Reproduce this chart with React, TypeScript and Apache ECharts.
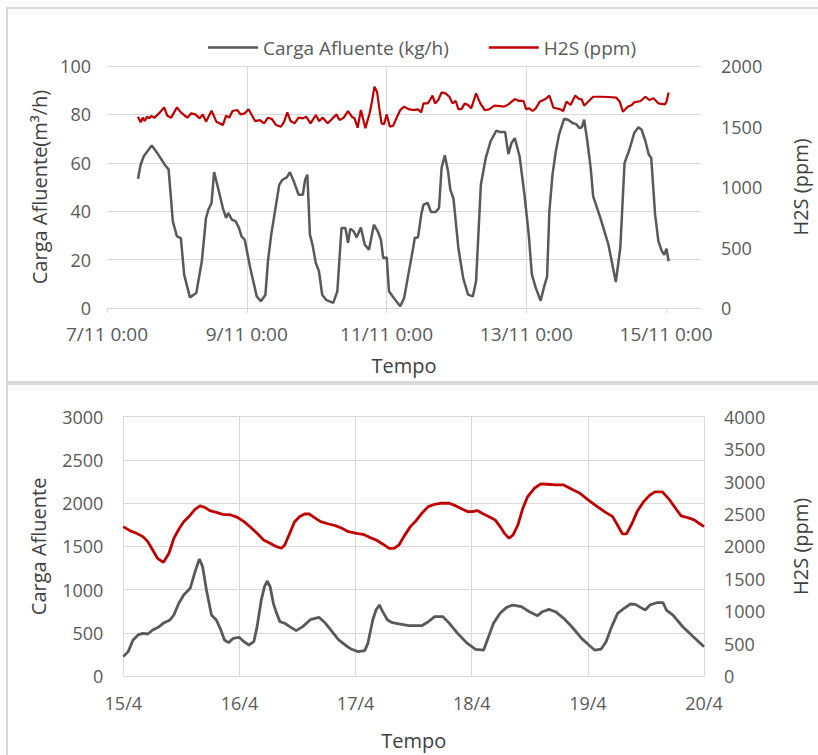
import React, { useEffect, useRef } from "react";
import * as echarts from "echarts";

const FONT = "'Open Sans', 'Noto Sans', sans-serif";

// ---------- Top chart (7/11 - 15/11) ----------
const topXTicks = [0, 2, 4, 6, 8];
const topXLabels = ["7/11 0:00", "9/11 0:00", "11/11 0:00", "13/11 0:00", "15/11 0:00"];
const topLegend = ["Carga Afluente (kg/h)", "H2S (ppm)"];

const topCargaDays = [
  0.443, 0.481, 0.526, 0.641, 0.734, 0.827, 0.882, 0.942, 1.001, 1.057,
  1.104, 1.187, 1.278, 1.357, 1.417, 1.450, 1.496, 1.533, 1.589, 1.658,
  1.704, 1.735, 1.787, 1.842, 1.888, 1.925, 1.971, 2.050, 2.143, 2.202,
  2.267, 2.303, 2.350, 2.396, 2.465, 2.511, 2.572, 2.618, 2.673, 2.742,
  2.802, 2.835, 2.867, 2.904, 2.940, 2.988, 3.033, 3.079, 3.134, 3.237,
  3.296, 3.356, 3.411, 3.449, 3.481, 3.528, 3.573, 3.633, 3.688, 3.749,
  3.819, 3.874, 3.920, 3.952, 4.003, 4.035, 4.104, 4.197, 4.252, 4.312,
  4.381, 4.404, 4.450, 4.497, 4.529, 4.589, 4.636, 4.705, 4.751, 4.788,
  4.834, 4.880, 4.913, 4.958, 5.028, 5.097, 5.166, 5.235, 5.281, 5.350,
  5.420, 5.489, 5.572, 5.627, 5.697, 5.744, 5.789, 5.835, 5.904, 5.974,
  6.035, 6.080, 6.136, 6.205, 6.251, 6.298, 6.330, 6.375, 6.422, 6.468,
  6.541, 6.597, 6.666, 6.713, 6.759, 6.796, 6.828, 6.874, 6.921, 6.957,
  7.060, 7.175, 7.281, 7.345, 7.406, 7.475, 7.544, 7.604, 7.650, 7.705,
  7.752, 7.788, 7.843, 7.891, 7.936, 7.974, 8.006, 8.037,
];
const topCargaValues = [
  53.4, 59.2, 62.7, 67.2, 63.4, 59.2, 57.2, 35.8, 29.6, 28.9,
  13.8, 4.4, 6.2, 19.3, 37.2, 40.6, 43.4, 56.2, 49.6, 41.3,
  37.2, 39.3, 36.5, 35.8, 33.1, 29.6, 28.2, 16.5, 4.8, 2.8,
  5.5, 19.3, 30.3, 38.6, 51, 53, 54, 56.1, 52.3, 46.8,
  46.8, 53, 55.1, 30.3, 26.2, 18.6, 15.2, 5.5, 3.4, 2.1,
  6.9, 33.1, 33.1, 26.9, 32.8, 31.7, 29.2, 33.3, 26.2, 24.1,
  34.4, 31.7, 28.2, 20.7, 20.9, 6.9, 4.1, 0.7, 4.1, 13.8,
  24.8, 28.9, 29.2, 38.6, 42.7, 43.4, 39.7, 39.7, 41.3, 57.9,
  63.1, 56.5, 48.9, 45.2, 24.8, 12.4, 5.5, 4.8, 11, 51,
  62, 68.9, 73.3, 72.7, 72.7, 63.6, 68.2, 70.2, 62.7, 46.8,
  30.3, 13.8, 8.3, 3, 8.3, 13.1, 39.9, 55.1, 64.7, 71.6,
  78.2, 77.8, 76.4, 76, 74.4, 74.7, 77.8, 68.9, 57.9, 46.1,
  37.2, 26.2, 10.7, 24.8, 59.9, 65.4, 72.3, 74.7, 73.7, 68.9,
  63.4, 62, 38.6, 27.5, 23.7, 22, 24.5, 19.3,
];

const topH2SDays = [
  0.443, 0.481, 0.512, 0.540, 0.572, 0.605, 0.633, 0.679, 0.758, 0.817,
  0.863, 0.918, 1.001, 1.057, 1.150, 1.205, 1.265, 1.325, 1.371, 1.417,
  1.496, 1.565, 1.658, 1.704, 1.749, 1.796, 1.866, 1.911, 1.971, 2.026,
  2.119, 2.188, 2.248,
  2.303, 2.359, 2.420, 2.489, 2.535, 2.580, 2.627, 2.683, 2.742, 2.802,
  2.849, 2.913, 2.988, 3.033, 3.089, 3.158, 3.227, 3.283, 3.328, 3.389,
  3.449, 3.504, 3.542, 3.587, 3.633, 3.698, 3.758, 3.791, 3.827, 3.864,
  3.896, 3.929, 3.965, 4.003, 4.048, 4.096, 4.151,
  4.197, 4.252, 4.312, 4.381, 4.450, 4.497, 4.529, 4.589, 4.622, 4.658,
  4.695, 4.741, 4.788, 4.843, 4.899, 4.945, 4.990, 5.028, 5.073, 5.120,
  5.166, 5.212, 5.281, 5.342, 5.406, 5.467, 5.544, 5.627, 5.683, 5.744,
  5.835, 5.896, 5.960, 5.997, 6.043, 6.090,
  6.136, 6.191, 6.274, 6.330, 6.389, 6.482, 6.528, 6.575, 6.634, 6.699,
  6.759, 6.791, 6.828, 6.884, 6.957, 7.060, 7.175, 7.290, 7.337, 7.382,
  7.452, 7.511, 7.544, 7.636, 7.705, 7.760, 7.821, 7.891, 7.982, 8.006,
  8.037,
];
const topH2SValues = [
  1581, 1534, 1573, 1545, 1581, 1567, 1587, 1573, 1617, 1658,
  1589, 1573, 1658, 1617, 1573, 1609, 1600, 1567, 1600, 1540,
  1631, 1540, 1512, 1589, 1573, 1628, 1636, 1600, 1609, 1642,
  1545, 1553, 1526,
  1573, 1562, 1512, 1498, 1540, 1617, 1545, 1526, 1573, 1567,
  1581, 1526, 1595, 1545, 1573, 1526, 1567, 1600, 1553, 1573,
  1628, 1581, 1567, 1490, 1636, 1485, 1609, 1705, 1829, 1788,
  1650, 1526, 1518, 1600, 1498, 1507, 1581,
  1636, 1664, 1644, 1636, 1642, 1617, 1691, 1691, 1719, 1755,
  1691, 1719, 1782, 1774, 1746, 1691, 1711, 1644, 1644, 1691,
  1678, 1650, 1774, 1691, 1636, 1642, 1672, 1669, 1664, 1683,
  1727, 1711, 1711, 1644, 1650, 1628,
  1650, 1705, 1727, 1755, 1655, 1644, 1628, 1705, 1678, 1755,
  1727, 1727, 1672, 1705, 1746, 1746, 1744, 1738, 1705, 1622,
  1664, 1678, 1700, 1711, 1746, 1719, 1733, 1691, 1683, 1705,
  1782,
];

// ---------- Bottom chart (15/4 - 20/4) ----------
const botXTicks = [0, 1, 2, 3, 4, 5];
const botXLabels = ["15/4", "16/4", "17/4", "18/4", "19/4", "20/4"];

const botCargaDays = [
  0.0, 0.042, 0.084, 0.127, 0.169, 0.211, 0.253, 0.309, 0.351, 0.402,
  0.435, 0.478, 0.520, 0.576, 0.618, 0.655, 0.683, 0.716, 0.759, 0.801,
  0.834, 0.871, 0.907, 0.947, 0.997, 1.039, 1.081, 1.124, 1.152, 1.188,
  1.216, 1.239, 1.264, 1.292, 1.320, 1.348, 1.390, 1.433, 1.489, 1.545,
  1.615, 1.685, 1.741, 1.798, 1.854, 1.910, 1.966, 2.022, 2.078, 2.106,
  2.148, 2.176, 2.205, 2.233, 2.275, 2.317, 2.374, 2.458,
  2.570, 2.626, 2.682, 2.752, 2.808, 2.878, 2.963, 3.033, 3.103, 3.145,
  3.187, 3.244, 3.300, 3.356, 3.427, 3.497, 3.567, 3.609, 3.665, 3.721,
  3.792, 3.862, 3.946, 4.016, 4.058, 4.115, 4.157, 4.199, 4.256, 4.312,
  4.367, 4.409, 4.452, 4.494, 4.535, 4.592, 4.648, 4.676, 4.733, 4.817,
  4.901, 5.000,
];
const botCargaValues = [
  224, 282, 417, 475, 494, 486, 532, 571, 617, 648,
  706, 841, 937, 1015, 1207, 1354, 1265, 995, 706, 648,
  552, 417, 386, 436, 448, 397, 359, 397, 571, 880,
  1034, 1099, 1034, 841, 725, 629, 610, 571, 525, 571,
  656, 679, 610, 513, 417, 359, 309, 282, 293, 378,
  648, 764, 822, 745, 648, 617, 602, 583,
  582, 628, 686, 686, 609, 493, 377, 308, 300, 455,
  609, 725, 794, 821, 802, 744, 698, 744, 771, 744,
  667, 570, 435, 350, 300, 312, 397, 551, 725, 782,
  833, 829, 794, 763, 821, 848, 848, 763, 705, 570,
  462, 339,
];

const botH2SDays = [
  0.0, 0.056, 0.113, 0.169, 0.211, 0.253, 0.295, 0.346, 0.393, 0.435,
  0.478, 0.520, 0.570, 0.618, 0.660, 0.702, 0.745, 0.801, 0.857, 0.927,
  0.983, 1.039, 1.096, 1.152, 1.208, 1.264, 1.320, 1.362, 1.390, 1.433,
  1.475, 1.517, 1.559, 1.601, 1.643, 1.699, 1.769, 1.826, 1.882, 1.938,
  2.008, 2.064, 2.121, 2.177, 2.233, 2.289, 2.331, 2.374, 2.415, 2.472,
  2.514, 2.570, 2.626, 2.682, 2.738, 2.808, 2.864, 2.921, 2.963, 3.005,
  3.047, 3.089, 3.145, 3.202, 3.244, 3.286, 3.322, 3.356, 3.398, 3.440,
  3.482, 3.539, 3.595, 3.651, 3.721, 3.792, 3.862, 3.932, 4.002, 4.072,
  4.143, 4.213, 4.255, 4.297, 4.333, 4.381, 4.424, 4.480, 4.535, 4.578,
  4.642, 4.704, 4.761, 4.803, 4.859, 4.915, 4.957, 5.000,
];
const botH2SValues = [
  2304, 2242, 2201, 2150, 2073, 1944, 1815, 1754, 1893, 2124,
  2263, 2381, 2469, 2571, 2623, 2602, 2551, 2525, 2494, 2484,
  2448, 2381, 2294, 2201, 2098, 2047, 1995, 1970, 2021, 2201,
  2381, 2458, 2499, 2499, 2448, 2381, 2345, 2319, 2278, 2227,
  2201, 2186, 2139, 2098, 2037, 1970, 1970, 2021, 2150, 2304,
  2382, 2510, 2613, 2649, 2665, 2665, 2624, 2572, 2536, 2536,
  2552, 2510, 2459, 2408, 2305, 2192, 2125, 2176, 2330, 2588,
  2768, 2896, 2963, 2958, 2948, 2948, 2881, 2819, 2716, 2624,
  2536, 2459, 2330, 2192, 2192, 2356, 2536, 2690, 2793, 2840,
  2840, 2716, 2572, 2469, 2444, 2408, 2356, 2305,
];

const zip = (xs: number[], ys: number[]) => {
  const n = Math.min(xs.length, ys.length);
  const out: number[][] = [];
  for (let i = 0; i < n; i++) out.push([xs[i], ys[i]]);
  return out;
};

const GRAY = "#595959";
const RED = "#C00000";
const GRID = "#d9d9d9";
const TICK = "#595959";
const TITLE = "#404040";

export default function App() {
  const ref = useRef<HTMLDivElement>(null);
  useEffect(() => {
    const chart = echarts.init(ref.current!, null, { renderer: "svg" });
    const plain = (v: number) => String(v);
    const tickLabel = { color: TICK, fontSize: 18, fontFamily: FONT };
    const nameStyle = { color: TITLE, fontSize: 20, fontFamily: FONT };
    chart.setOption({
      animation: false,
      backgroundColor: "#ffffff",
      textStyle: { fontFamily: FONT },
      graphic: [
        { type: "rect", shape: { x: 7, y: 8, width: 830, height: 374 }, style: { fill: "none", stroke: GRID, lineWidth: 2 }, silent: true },
        { type: "rect", shape: { x: 7, y: 384, width: 830, height: 400 }, style: { fill: "none", stroke: GRID, lineWidth: 2 }, silent: true },
      ],
      legend: {
        data: topLegend,
        left: 203,
        top: 33,
        icon: "rect",
        itemWidth: 50,
        itemHeight: 2.5,
        itemGap: 40,
        textStyle: { color: TICK, fontSize: 19, fontFamily: FONT },
      },
      grid: [
        { left: 107, top: 66, width: 615, height: 242 },
        { left: 123.3, top: 416.7, width: 593.4, height: 259.3 },
      ],
      xAxis: [
        {
          gridIndex: 0,
          type: "value",
          min: 0,
          max: 8.5,
          interval: 2,
          axisLine: { show: true, lineStyle: { color: GRID } },
          axisTick: { show: true, customValues: topXTicks, length: 5, lineStyle: { color: GRID } },
          axisLabel: {
            ...tickLabel,
            fontSize: 19,
            margin: 16,
            customValues: topXTicks,
            formatter: (v: number) => topXLabels[topXTicks.indexOf(v)] ?? "",
          },
          splitLine: { show: true, showMinLine: false, showMaxLine: false, lineStyle: { color: GRID } },
          name: "Tempo",
          nameLocation: "middle",
          nameGap: 47,
          nameTextStyle: nameStyle,
        },
        {
          gridIndex: 1,
          type: "value",
          min: 0,
          max: 5,
          interval: 1,
          axisLine: { show: true, lineStyle: { color: GRID } },
          axisTick: { show: false },
          axisLabel: {
            ...tickLabel,
            margin: 18,
            formatter: (v: number) => botXLabels[botXTicks.indexOf(v)] ?? "",
          },
          splitLine: { show: true, lineStyle: { color: GRID } },
          name: "Tempo",
          nameLocation: "middle",
          nameGap: 54,
          nameTextStyle: nameStyle,
        },
      ],
      yAxis: [
        {
          gridIndex: 0,
          type: "value",
          position: "left",
          min: 0,
          max: 100,
          interval: 20,
          axisLine: { show: false },
          axisTick: { show: false },
          axisLabel: { ...tickLabel, margin: 16, formatter: plain },
          splitLine: { show: true, lineStyle: { color: GRID } },
          name: "Carga Afluente(m³/h)",
          nameLocation: "middle",
          nameGap: 45,
          nameTextStyle: nameStyle,
        },
        {
          gridIndex: 0,
          type: "value",
          position: "right",
          min: 0,
          max: 2000,
          interval: 500,
          axisLine: { show: false },
          axisTick: { show: false },
          axisLabel: { ...tickLabel, margin: 20, formatter: plain },
          splitLine: { show: false },
          name: "H2S (ppm)",
          nameLocation: "middle",
          nameGap: 89,
          nameTextStyle: nameStyle,
        },
        {
          gridIndex: 1,
          type: "value",
          position: "left",
          min: 0,
          max: 3000,
          interval: 500,
          axisLine: { show: false },
          axisTick: { show: false },
          axisLabel: { ...tickLabel, margin: 20, formatter: plain },
          splitLine: { show: true, lineStyle: { color: GRID } },
          name: "Carga Afluente",
          nameLocation: "middle",
          nameGap: 75,
          nameTextStyle: nameStyle,
        },
        {
          gridIndex: 1,
          type: "value",
          position: "right",
          min: 0,
          max: 4000,
          interval: 500,
          axisLine: { show: false },
          axisTick: { show: false },
          axisLabel: { ...tickLabel, margin: 20, formatter: plain },
          splitLine: { show: false },
          name: "H2S (ppm)",
          nameLocation: "middle",
          nameGap: 86,
          nameTextStyle: nameStyle,
        },
      ],
      series: [
        {
          type: "line",
          name: topLegend[0],
          xAxisIndex: 0,
          yAxisIndex: 0,
          data: zip(topCargaDays, topCargaValues),
          symbol: "none",
          lineStyle: { color: GRAY, width: 2.5 },
          itemStyle: { color: GRAY },
        },
        {
          type: "line",
          name: topLegend[1],
          xAxisIndex: 0,
          yAxisIndex: 1,
          data: zip(topH2SDays, topH2SValues),
          symbol: "none",
          lineStyle: { color: RED, width: 2.2 },
          itemStyle: { color: RED },
        },
        {
          type: "line",
          name: "Carga Afluente",
          xAxisIndex: 1,
          yAxisIndex: 2,
          data: zip(botCargaDays, botCargaValues),
          symbol: "none",
          lineStyle: { color: GRAY, width: 2.8 },
          itemStyle: { color: GRAY },
        },
        {
          type: "line",
          name: "H2S",
          xAxisIndex: 1,
          yAxisIndex: 3,
          data: zip(botH2SDays, botH2SValues),
          symbol: "none",
          lineStyle: { color: RED, width: 2.8 },
          itemStyle: { color: RED },
        },
      ],
    });
    return () => chart.dispose();
  }, []);
  return (
    <div
      ref={ref}
      style={{ position: "absolute", left: 0, top: 0, width: 818, height: 755, background: "#fff" }}
    />
  );
}
